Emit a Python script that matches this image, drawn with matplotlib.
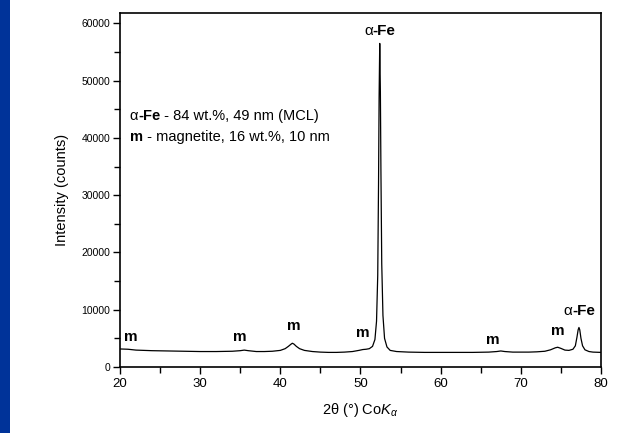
import matplotlib
matplotlib.use("Agg")
import matplotlib.pyplot as plt
from matplotlib.ticker import MultipleLocator
from matplotlib.patches import Rectangle
from matplotlib.transforms import offset_copy

plt.rcParams['font.family'] = ['Liberation Sans', 'DejaVu Sans']
plt.rcParams['mathtext.fontset'] = 'custom'
plt.rcParams['mathtext.rm'] = 'Liberation Sans'
plt.rcParams['mathtext.it'] = 'Liberation Sans:italic'
plt.rcParams['mathtext.bf'] = 'Liberation Sans:bold'

# ---- data ----
two_theta = [20.0, 21.0, 22.0, 24.0, 26.0, 28.0, 30.0, 32.0, 34.0, 35.0,
             35.5, 36.0, 37.0, 38.0, 39.0, 40.0, 40.6, 41.0, 41.3, 41.5,
             41.7, 42.0, 42.4, 43.0, 44.0, 45.0, 46.0, 47.0, 48.0, 49.0,
             49.8, 50.3, 50.7, 51.1, 51.5, 51.8, 52.0, 52.15, 52.25, 52.32,
             52.4, 52.48, 52.55, 52.65, 52.8, 53.0, 53.3, 53.7, 54.5, 56.0,
             58.0, 60.0, 62.0, 64.0, 66.0, 67.0, 67.5, 68.0, 69.0, 70.0,
             71.0, 72.0, 73.0, 73.7, 74.3, 74.6, 75.0, 75.5, 76.0, 76.5,
             76.8, 77.0, 77.15, 77.25, 77.35, 77.5, 77.7, 78.0, 78.5, 79.0,
             80.0]
intensity = [3150, 3100, 2950, 2850, 2800, 2750, 2700, 2700, 2750, 2850,
             2950, 2850, 2700, 2700, 2750, 2900, 3200, 3600, 3950, 4150,
             4000, 3600, 3200, 2900, 2700, 2600, 2550, 2550, 2600, 2700,
             2900, 3050, 3100, 3200, 3600, 4800, 8000, 16000, 32000, 47000,
             56500, 48000, 34000, 18000, 9000, 5000, 3500, 2900, 2700, 2600,
             2550, 2550, 2550, 2550, 2600, 2700, 2800, 2700, 2600, 2600,
             2600, 2650, 2750, 3000, 3350, 3450, 3250, 2950, 2900, 3100,
             3700, 5200, 6500, 6900, 6500, 5000, 3700, 3000, 2700, 2600,
             2550]

peak_labels = ['m', 'm', 'm', 'm', 'm', 'm']
peak_label_x = [21.4, 35.0, 41.7, 50.3, 66.5, 74.6]
peak_label_y = [5300, 5300, 7200, 6000, 4800, 6200]
fe_label_x = [52.4, 77.3]
fe_label_y = [58700, 9800]

legend_line1 = [('α', 'normal'), ('-Fe', 'bold'), (' - 84 wt.%, 49 nm (MCL)', 'normal')]
legend_line2 = [('m', 'bold'), (' - magnetite, 16 wt.%, 10 nm', 'normal')]

x_ticks = [20, 30, 40, 50, 60, 70, 80]
y_ticks = [0, 10000, 20000, 30000, 40000, 50000, 60000]

fig = plt.figure(figsize=(6.4, 4.33), dpi=100)
fig.patches.append(Rectangle((0, 0), 10 / 640, 1, transform=fig.transFigure,
                             facecolor='#003399', edgecolor='none', zorder=0))

ax = fig.add_axes([120 / 640, 1 - 367 / 433, 481 / 640, (367 - 12.5) / 433])
ax.plot(two_theta, intensity, color='black', lw=0.9)

ax.set_xlim(20, 80)
ax.set_ylim(0, 61900)
ax.set_xticks(x_ticks)
ax.set_yticks(y_ticks)
ax.xaxis.set_minor_locator(MultipleLocator(5))
ax.yaxis.set_minor_locator(MultipleLocator(5000))
ax.tick_params(axis='both', which='both', direction='out', width=1, color='black')
ax.tick_params(axis='both', which='major', length=5)
ax.tick_params(axis='both', which='minor', length=4)
ax.tick_params(axis='x', labelsize=9.5, pad=3)
ax.tick_params(axis='y', labelsize=7.5, pad=2)
for s in ax.spines.values():
    s.set_linewidth(1.2)

ax.set_ylabel('Intensity (counts)', fontsize=10.5, labelpad=9)
ax.set_xlabel(r'2θ (°) Co$\mathit{K}_{\alpha}$', fontsize=10.5, labelpad=8)

for lab, lx, ly in zip(peak_labels, peak_label_x, peak_label_y):
    ax.text(lx, ly, lab, fontsize=11, fontweight='bold', ha='center', va='center')

renderer = fig.canvas.get_renderer()


def rich_text(x, y, parts, size, ha='left'):
    arts = []
    for s, w in parts:
        t = ax.text(x, y, s, fontsize=size, fontweight=w, ha='left', va='center')
        arts.append(t)
    widths = [a.get_window_extent(renderer).width for a in arts]
    total = sum(widths)
    start = -total / 2 if ha == 'center' else 0.0
    off = start
    for a, wd in zip(arts, widths):
        a.set_transform(offset_copy(ax.transData, fig=fig, x=off * 72 / fig.dpi,
                                    y=0, units='points'))
        off += wd
    return arts


for lx, ly in zip(fe_label_x, fe_label_y):
    rich_text(lx, ly, [legend_line1[0], legend_line1[1]], 11, ha='center')

rich_text(21.2, 43800, legend_line1, 10.5)
rich_text(21.2, 40100, legend_line2, 10.5)

fig.savefig('out.png', dpi=100)
